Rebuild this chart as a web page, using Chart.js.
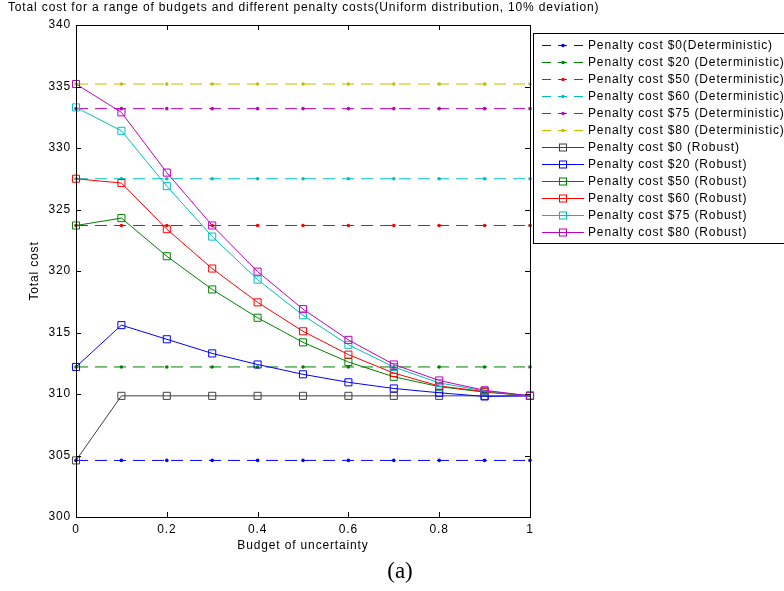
<!DOCTYPE html>
<html><head><meta charset="utf-8">
<script src="https://cdn.jsdelivr.net/npm/chart.js@4/dist/chart.umd.min.js"></script>
<style>html,body{margin:0;padding:0;background:#fff;overflow:hidden}#wrap{width:784px;height:591px;position:relative}</style>
</head><body><div id="wrap"><canvas id="c" width="784" height="591"></canvas></div>
<script>
// ---- data ----
const budgets = [0, 0.1, 0.2, 0.3, 0.4, 0.5, 0.6, 0.7, 0.8, 0.9, 1];
const xTicks = [0, 0.2, 0.4, 0.6, 0.8, 1];
const xTickLabels = ['0', '0.2', '0.4', '0.6', '0.8', '1'];
const yTicks = [300, 305, 310, 315, 320, 325, 330, 335, 340];
const yTickLabels = ['300', '305', '310', '315', '320', '325', '330', '335', '340'];

const det0  = [304.6, 304.6, 304.6, 304.6, 304.6, 304.6, 304.6, 304.6, 304.6, 304.6, 304.6];
const det20 = [312.2, 312.2, 312.2, 312.2, 312.2, 312.2, 312.2, 312.2, 312.2, 312.2, 312.2];
const det50 = [323.7, 323.7, 323.7, 323.7, 323.7, 323.7, 323.7, 323.7, 323.7, 323.7, 323.7];
const det60 = [327.5, 327.5, 327.5, 327.5, 327.5, 327.5, 327.5, 327.5, 327.5, 327.5, 327.5];
const det75 = [333.2, 333.2, 333.2, 333.2, 333.2, 333.2, 333.2, 333.2, 333.2, 333.2, 333.2];
const det80 = [335.2, 335.2, 335.2, 335.2, 335.2, 335.2, 335.2, 335.2, 335.2, 335.2, 335.2];

const rob0  = [304.6, 309.85, 309.85, 309.85, 309.85, 309.85, 309.85, 309.85, 309.85, 309.85, 309.85];
const rob20 = [312.2, 315.6, 314.45, 313.3, 312.4, 311.6, 310.95, 310.45, 310.1, 309.8, 309.85];
const rob50 = [323.7, 324.3, 321.2, 318.5, 316.2, 314.2, 312.6, 311.4, 310.6, 310.15, 309.85];
const rob60 = [327.5, 327.15, 323.4, 320.2, 317.45, 315.1, 313.2, 311.7, 310.65, 310.2, 309.85];
const rob75 = [333.3, 331.4, 326.9, 322.8, 319.3, 316.4, 314.0, 312.2, 310.9, 310.25, 309.85];
const rob80 = [335.2, 332.9, 328.0, 323.7, 319.95, 316.9, 314.4, 312.4, 311.1, 310.3, 309.85];

const seriesLabels = [
  'Penalty cost $0(Deterministic)', 'Penalty cost $20 (Deterministic)', 'Penalty cost $50 (Deterministic)',
  'Penalty cost $60 (Deterministic)', 'Penalty cost $75 (Deterministic)', 'Penalty cost $80 (Deterministic)',
  'Penalty cost $0 (Robust)', 'Penalty cost $20 (Robust)', 'Penalty cost $50 (Robust)',
  'Penalty cost $60 (Robust)', 'Penalty cost $75 (Robust)', 'Penalty cost $80 (Robust)'
];
const seriesValues = [det0, det20, det50, det60, det75, det80, rob0, rob20, rob50, rob60, rob75, rob80];
const seriesKinds = ['det','det','det','det','det','det','rob','rob','rob','rob','rob','rob'];
const seriesColors = ['#0000ff', '#008000', '#ff0000', '#00bfbf', '#bf00bf', '#bfbf00',
                      '#404040', '#0000ff', '#008000', '#ff0000', '#00bfbf', '#bf00bf'];

const FONT = "'Liberation Sans', Arial, sans-serif";
const DASH = [12, 7];
const SPACING = '0.85px';

const datasets = seriesValues.map((vals, i) => {
  const det = seriesKinds[i] === 'det';
  return {
    label: seriesLabels[i],
    data: budgets.map((b, j) => ({ x: b, y: vals[j] })),
    borderColor: seriesColors[i],
    borderWidth: 1,
    borderDash: det ? DASH : [],
    pointStyle: det ? 'circle' : 'rect',
    pointRadius: det ? 1.8 : 5,
    pointHoverRadius: det ? 1.8 : 5,
    pointBorderWidth: det ? 0 : 1,
    pointBorderColor: seriesColors[i],
    pointBackgroundColor: det ? seriesColors[i] : 'rgba(0,0,0,0)',
    fill: false,
    tension: 0,
    clip: false,
    order: -i
  };
});

function spacedText(ctx, text, x, y) {
  ctx.letterSpacing = SPACING;
  ctx.fillText(text, x, y);
  ctx.letterSpacing = '0px';
}

const decor = {
  id: 'decor',
  beforeDraw(chart) { chart.ctx.letterSpacing = SPACING; },
  afterDraw(chart) {
    const ctx = chart.ctx;
    ctx.letterSpacing = '0px';
    const { left, right, top, bottom } = chart.chartArea;
    const xs = chart.scales.x, ys = chart.scales.y;
    ctx.save();
    // axes box
    ctx.strokeStyle = '#000';
    ctx.lineWidth = 1;
    ctx.setLineDash([]);
    ctx.strokeRect(Math.round(left) + 0.5, Math.round(top) + 0.5, Math.round(right - left), Math.round(bottom - top));
    // inward ticks
    const TL = 5;
    ctx.beginPath();
    xs.ticks.forEach(t => {
      const px = Math.round(xs.getPixelForValue(t.value)) + 0.5;
      ctx.moveTo(px, bottom); ctx.lineTo(px, bottom - TL);
      ctx.moveTo(px, top); ctx.lineTo(px, top + TL);
    });
    ys.ticks.forEach(t => {
      const py = Math.round(ys.getPixelForValue(t.value)) + 0.5;
      ctx.moveTo(left, py); ctx.lineTo(left + TL, py);
      ctx.moveTo(right, py); ctx.lineTo(right - TL, py);
    });
    ctx.stroke();

    // title
    ctx.fillStyle = '#000';
    ctx.font = '12px ' + FONT;
    ctx.textAlign = 'left';
    ctx.textBaseline = 'middle';
    spacedText(ctx, 'Total cost for a range of budgets and different penalty costs(Uniform distribution, 10% deviation)', 8, 8);
    // x title
    ctx.textAlign = 'center';
    spacedText(ctx, 'Budget of uncertainty', (left + right) / 2, 546);
    // y title
    ctx.save();
    ctx.translate(35, 271);
    ctx.rotate(-Math.PI / 2);
    spacedText(ctx, 'Total cost', 0, 0);
    ctx.restore();
    // (a)
    ctx.font = "23px 'Liberation Serif', 'Times New Roman', serif";
    ctx.fillText('(a)', 400, 572);

    // legend
    const lx = 533.5, ly = 33.5, lh = 210;
    ctx.fillStyle = '#fff';
    ctx.fillRect(lx, ly, 400, lh);
    ctx.strokeStyle = '#000';
    ctx.strokeRect(lx, ly, 400, lh);
    ctx.font = '12px ' + FONT;
    ctx.textAlign = 'left';
    ctx.textBaseline = 'middle';
    datasets.forEach((ds, i) => {
      const cy = 45.5 + 17 * i;
      const det = seriesKinds[i] === 'det';
      ctx.strokeStyle = ds.borderColor;
      ctx.lineWidth = 1;
      ctx.setLineDash(det ? [9, 7] : []);
      ctx.beginPath();
      ctx.moveTo(542, cy); ctx.lineTo(584, cy);
      ctx.stroke();
      ctx.setLineDash([]);
      if (det) {
        ctx.fillStyle = ds.borderColor;
        ctx.beginPath(); ctx.arc(563, cy, 1.8, 0, Math.PI * 2); ctx.fill();
      } else {
        ctx.strokeRect(559.5, cy - 3.5, 7, 7);
      }
      ctx.fillStyle = '#000';
      spacedText(ctx, ds.label, 588, cy);
    });
    ctx.restore();
  }
};

new Chart(document.getElementById('c'), {
  type: 'line',
  data: { datasets },
  options: {
    responsive: false,
    animation: false,
    devicePixelRatio: 1,
    layout: { padding: { left: 0, top: 25, right: 254, bottom: 0 } },
    plugins: { legend: { display: false }, tooltip: { enabled: false }, title: { display: false } },
    scales: {
      x: {
        type: 'linear', min: 0, max: 1,
        afterBuildTicks: s => { s.ticks = xTicks.map(v => ({ value: v })); },
        afterFit: s => { s.height = 74; },
        ticks: { callback: (v, i) => xTickLabels[i], font: { family: FONT, size: 12 }, color: '#000', padding: 5, maxRotation: 0, autoSkip: false },
        grid: { display: false, drawTicks: false, tickLength: 0 },
        border: { display: false }
      },
      y: {
        type: 'linear', min: 300, max: 340,
        afterBuildTicks: s => { s.ticks = yTicks.map(v => ({ value: v })); },
        afterFit: s => { s.width = 76; },
        ticks: { callback: (v, i) => yTickLabels[i], font: { family: FONT, size: 12 }, color: '#000', padding: 5, autoSkip: false },
        grid: { display: false, drawTicks: false, tickLength: 0 },
        border: { display: false }
      }
    }
  },
  plugins: [decor]
});
</script></body></html>
